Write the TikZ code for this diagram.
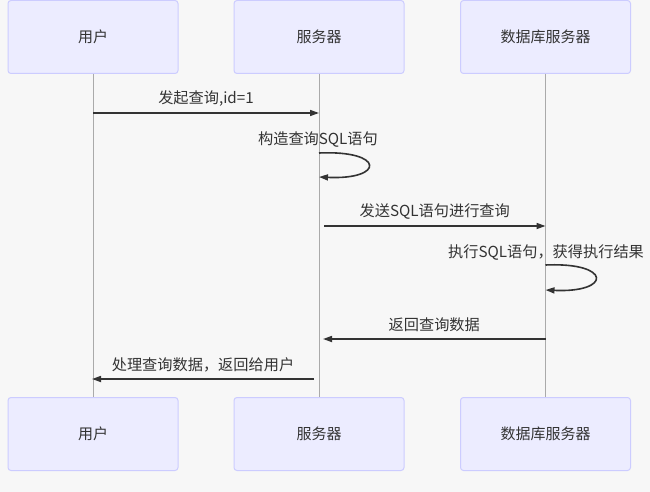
\documentclass[tikz,border=0pt]{standalone}
\usepackage{fontspec}
\newfontfamily\cjk{Noto Sans CJK SC}
\usetikzlibrary{positioning, calc, arrows.meta}
\definecolor{Back}{HTML}{F7F7F7}
\definecolor{BoxFill}{HTML}{ECECFF}
\definecolor{BoxLine}{HTML}{CCCCFF}
\definecolor{Ink}{HTML}{333333}
\definecolor{Life}{HTML}{AAAAAA}
\tikzset{
    actorbox/.style={rectangle, rounded corners=3pt, fill=BoxFill, draw=BoxLine, line width=1pt, minimum width=170pt, minimum height=73pt, text=Ink, font=\cjk\fontsize{15}{18}\selectfont},
    lifeline/.style={draw=Life, line width=1pt},
    msg/.style={-{Triangle[length=9pt, width=6pt]}, line width=1.6pt, color=Ink},
    msglabel/.style={text=Ink, font=\cjk\fontsize{15.2}{18}\selectfont, inner sep=0pt},
}
\begin{document}
\begin{tikzpicture}[x=1pt, y=-1pt]
    % Hintergrund
    \fill[Back] (0,0) rectangle (650,492);
    \useasboundingbox (0,0) rectangle (650,492);

    % Teilnehmer oben und unten
    \node[actorbox] (user)    at (93,37)    {用户};
    \node[actorbox] (server)  at (319,37)   {服务器};
    \node[actorbox] (db)      at (545.5,37) {数据库服务器};
    \node[actorbox] (userB)   at (93,434)   {用户};
    \node[actorbox] (serverB) at (319,434)  {服务器};
    \node[actorbox] (dbB)     at (545.5,434){数据库服务器};

    % Lebenslinien
    \draw[lifeline] (user) -- (userB);
    \draw[lifeline] (server) -- (serverB);
    \draw[lifeline] (db) -- (dbB);

    % Punkte auf den Lebenslinien
    \coordinate (u1) at (93,113);     \coordinate (s1) at (319,113);
    \coordinate (s2a) at (319,153);   \coordinate (s2b) at (319,177);
    \coordinate (s3) at (324,226);    \coordinate (d3) at (545.5,226);
    \coordinate (d4a) at (545.5,265); \coordinate (d4b) at (545.5,290);
    \coordinate (d5) at (545.5,339);  \coordinate (s5) at (323,339);
    \coordinate (s6) at (314,379);    \coordinate (u6) at (92,379);

    % Nachrichten
    \draw[msg] (u1) -- (s1) node[msglabel, midway, above=6pt] {发起查询,id=1};
    \draw[msg] (s2a) .. controls (385,150) and (385,180) .. (s2b);
    \node[msglabel] (l2) at (318,140) {构造查询SQL语句};
    \draw[msg] (s3) -- (d3) node[msglabel, midway, above=6pt] {发送SQL语句进行查询};
    \draw[msg] (d4a) .. controls (612,262) and (612,293) .. (d4b);
    \node[msglabel] (l4) at (546,253) {执行SQL语句，获得执行结果};
    \draw[msg] (d5) -- (s5) node[msglabel, midway, above=6pt] {返回查询数据};
    \draw[msg] (s6) -- (u6) node[msglabel, midway, above=6pt] {处理查询数据，返回给用户};
\end{tikzpicture}
\end{document}
